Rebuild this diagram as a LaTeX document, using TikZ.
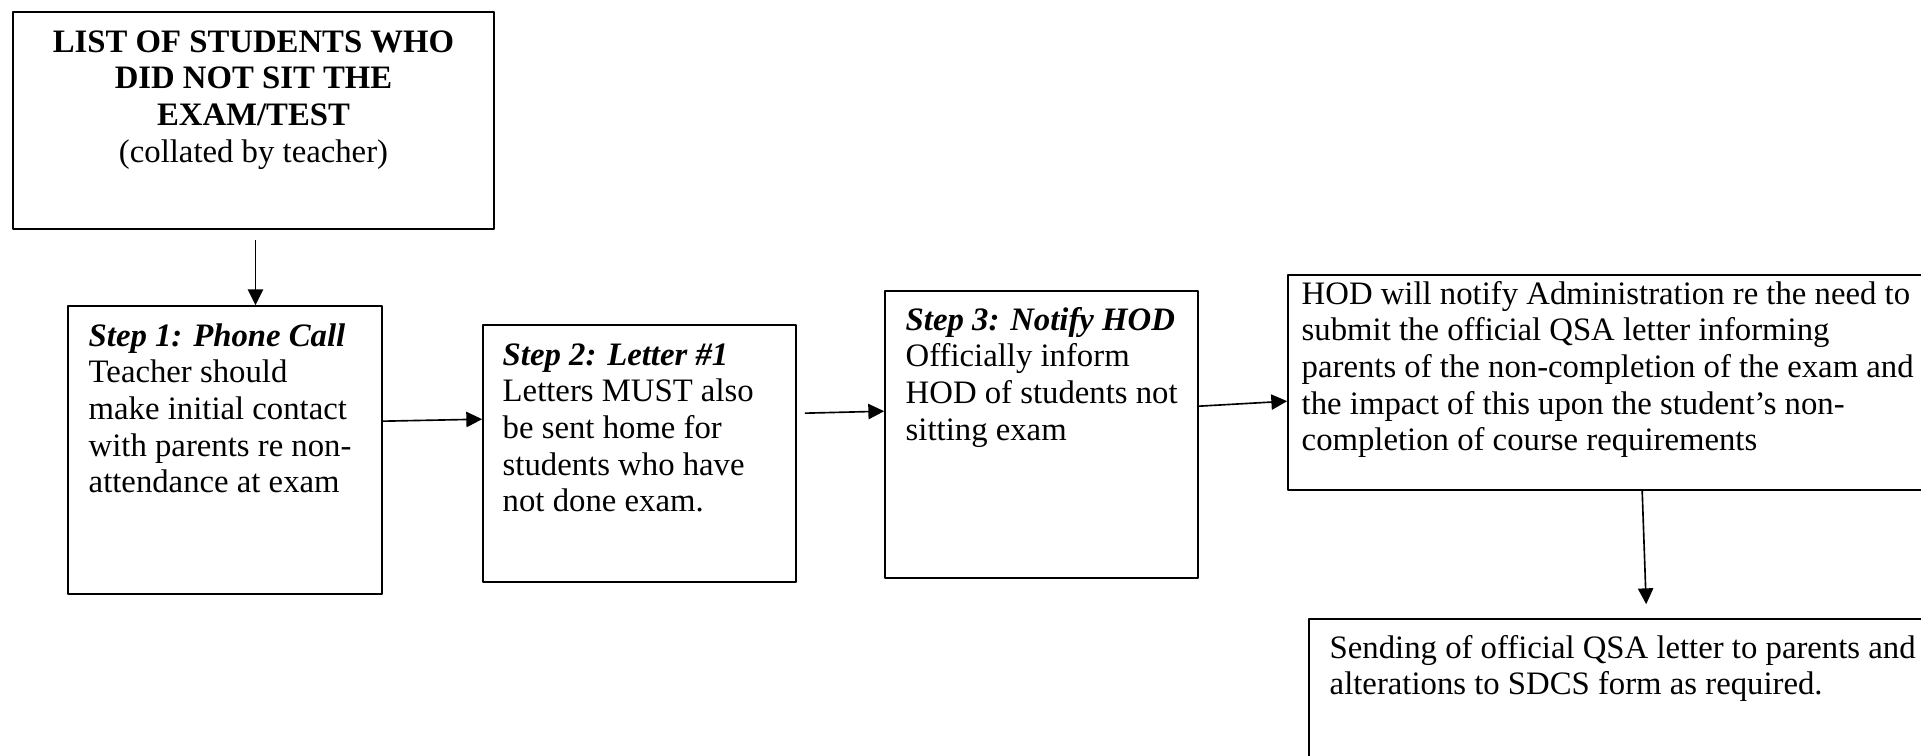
\documentclass[tikz,border=0pt]{standalone}
\usepackage{fontspec}
\setmainfont{Liberation Serif}
\usetikzlibrary{arrows.meta,fit}
\newcommand{\steptitle}[1]{\textbf{\textit{#1}}}
\tikzset{
  flowbox/.style={draw, line width=0.6pt, inner sep=0pt},
  flowtext/.style={inner sep=0pt, anchor=north west, align=left},
  flowarrow/.style={->, line width=0.6pt}
}
\begin{document}
\begin{tikzpicture}[x=0.3665pt, y=-0.3665pt, >={Triangle[length=5.8pt,width=5.6pt]}, font=\fontsize{12}{13.4}\selectfont, line join=round]
	\useasboundingbox (0,0) rectangle (1921,756);
	\clip (0,0) rectangle (1921,756);
	% boxes
	\node[flowbox, fit={(13,12) (494,229)}] (list) {};
	\node[flowbox, fit={(68,306) (382,594)}] (s1) {};
	\node[flowbox, fit={(483,325) (796,582)}] (s2) {};
	\node[flowbox, fit={(885,291) (1198,578)}] (s3) {};
	\node[flowbox, fit={(1288,275) (1940,490)}] (hod) {};
	\node[flowbox, fit={(1309,619) (1940,800)}] (qsa) {};
	% texts (first line carries a strut, 0.7\baselineskip above its baseline)
	\node[flowtext, anchor=north, align=center] (list-t) at ([shift={(0,15)}]list.north)
		{\strut\textbf{LIST OF STUDENTS WHO}\\\textbf{DID NOT SIT THE}\\\textbf{EXAM/TEST}\\(collated by teacher)};
	\node[flowtext] (s1-t) at ([shift={(21,15)}]s1.north west)
		{\strut\steptitle{Step 1: Phone Call}\\Teacher should\\make initial contact\\with parents re non-\\attendance at exam};
	\node[flowtext] (s2-t) at ([shift={(20,15)}]s2.north west)
		{\strut\steptitle{Step 2: Letter \#1}\\Letters MUST also\\be sent home for\\students who have\\not done exam.};
	\node[flowtext] (s3-t) at ([shift={(21,14)}]s3.north west)
		{\strut\steptitle{Step 3: Notify HOD}\\Officially inform\\HOD of students not\\sitting exam};
	\node[flowtext] (hod-t) at ([shift={(14,4)}]hod.north west)
		{\strut HOD will notify Administration re the need to\\submit the official QSA letter informing\\parents of the non-completion of the exam and\\the impact of this upon the student’s non-\\completion of course requirements};
	\node[flowtext] (qsa-t) at ([shift={(21,14)}]qsa.north west)
		{\strut Sending of official QSA letter to parents and\\alterations to SDCS form as required.};
	% arrows
	\coordinate (c0) at ([shift={(2,10)}]list.south);
	\coordinate (c2) at ([shift={(8,89)}]s2.north east);
	\coordinate (c4) at ([shift={(338,-14)}]qsa.north west);
	\draw[flowarrow] (c0) -- (c0 |- s1.north);
	\draw[flowarrow] ([shift={(0,116)}]s1.north east) -- ([shift={(0,95)}]s2.north west);
	\draw[flowarrow] (c2) -- ([shift={(0,121)}]s3.north west);
	\draw[flowarrow] ([shift={(0,116)}]s3.north east) -- ([shift={(0,127)}]hod.north west);
	\draw[flowarrow] ([shift={(355,0)}]hod.south west) -- (c4);
\end{tikzpicture}
\end{document}
